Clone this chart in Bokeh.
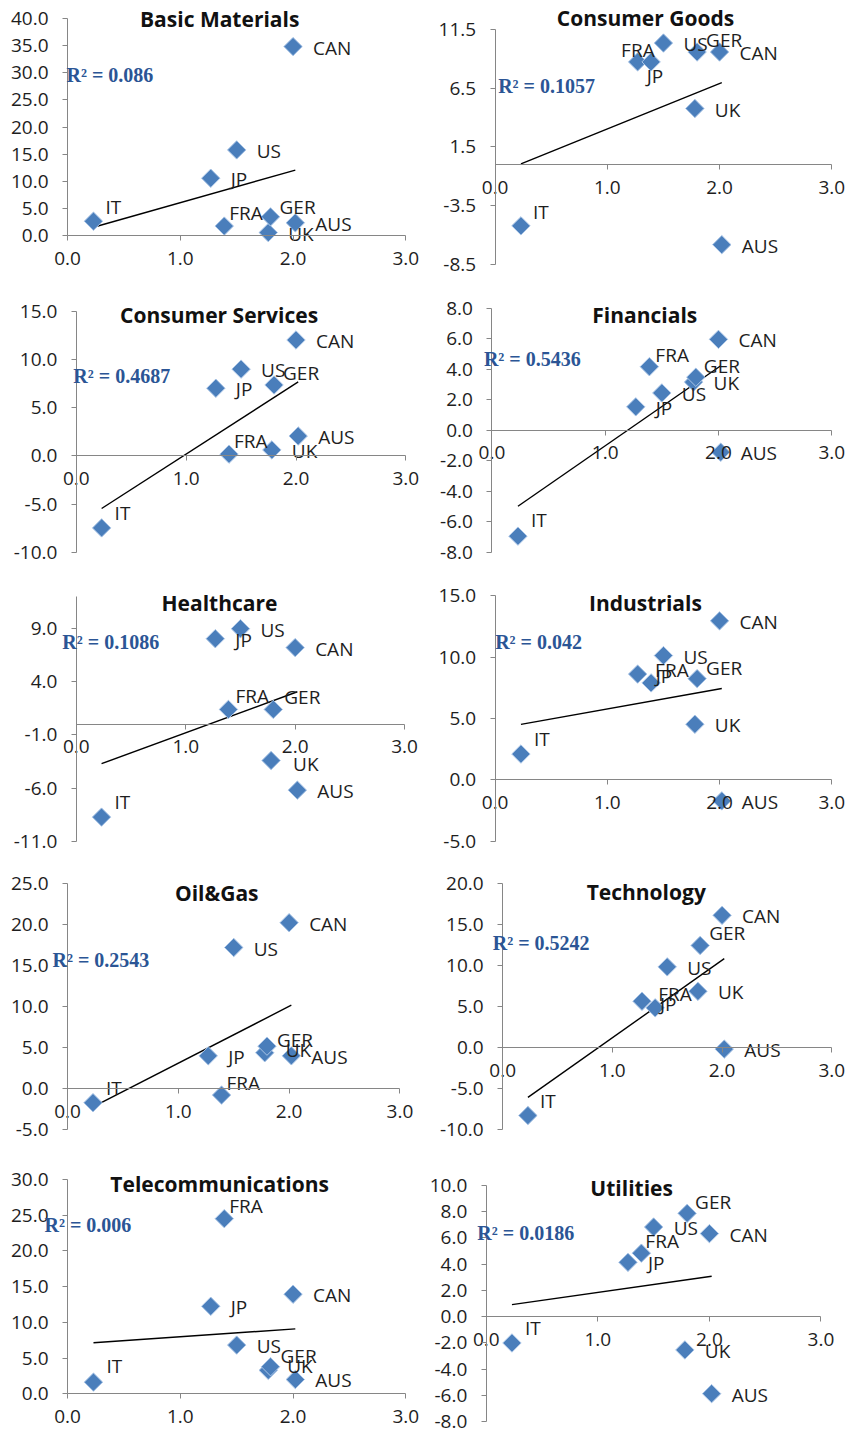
import numpy as np
from bokeh.plotting import figure
from bokeh.models import Range1d, FixedTicker, PrintfTickFormatter, Label, ColumnDataSource
from bokeh.layouts import column, row
from bokeh.embed import file_html
from bokeh.resources import INLINE
from bokeh.core.properties import value

# ---------------- data ----------------
countries = ["IT", "JP", "FRA", "US", "UK", "GER", "CAN", "AUS"]
country_x = [0.23, 1.27, 1.39, 1.50, 1.78, 1.80, 2.00, 2.02]

sectors = ["Basic Materials", "Consumer Goods", "Consumer Services", "Financials",
           "Healthcare", "Industrials", "Oil&Gas", "Technology",
           "Telecommunications", "Utilities"]

basic_materials = [2.7, 10.6, 1.8, 15.8, 0.6, 3.5, 34.8, 2.4]
consumer_goods = [-5.21, 8.72, 8.72, 10.32, 4.76, 9.56, 9.56, -6.81]
consumer_services = [-7.47, 7.0, 0.17, 8.98, 0.61, 7.34, 12.0, 2.05]
financials = [-6.94, 1.53, 4.16, 2.44, 3.15, 3.47, 5.95, -1.44]
healthcare = [-8.74, 8.06, 1.4, 9.0, -3.41, 1.4, 7.22, -6.2]
industrials = [2.1, 8.62, 7.9, 10.13, 4.53, 8.25, 12.96, -1.72]
oil_gas = [-1.69, 4.02, -0.76, 17.22, 4.4, 5.2, 20.24, 4.02]
technology = [-8.25, 5.67, 4.87, 9.86, 6.88, 12.47, 16.14, -0.16]
telecommunications = [1.65, 12.25, 24.5, 6.83, 3.3, 3.8, 13.94, 2.02]
utilities = [-2.01, 4.13, 4.83, 6.82, -2.54, 7.86, 6.32, -5.87]

sector_values = [basic_materials, consumer_goods, consumer_services, financials,
                 healthcare, industrials, oil_gas, technology,
                 telecommunications, utilities]

r_squared = ["0.086", "0.1057", "0.4687", "0.5436", "0.1086",
             "0.042", "0.2543", "0.5242", "0.006", "0.0186"]

x_ticks = [0, 1, 2, 3]
y_ticks = [
    [0, 5, 10, 15, 20, 25, 30, 35, 40],
    [-8.5, -3.5, 1.5, 6.5, 11.5],
    [-10, -5, 0, 5, 10, 15],
    [-8, -6, -4, -2, 0, 2, 4, 6, 8],
    [-11, -6, -1, 4, 9],
    [-5, 0, 5, 10, 15],
    [-5, 0, 5, 10, 15, 20, 25],
    [-10, -5, 0, 5, 10, 15, 20],
    [0, 5, 10, 15, 20, 25, 30],
    [-8, -6, -4, -2, 0, 2, 4, 6, 8, 10],
]
x_min, x_max = 0, 3
y_min = [0, -8.5, -10, -8, -11, -5, -5, -10, 0, -8]
y_max = [40, 11.5, 15, 8, 12, 15, 25, 20, 30, 10]

# ---------------- layout / style ----------------
SX = 845 / 861
SY = 1433 / 1449
def gx(v): return 8 + v * SX
def gy(v): return 8 + v * SY
row_tops = [8, 295, 587, 873, 1165, 1441]
col_lefts = [8, 430, 853]

# plot area in reference pixels: left, right, top, bottom
frames = [
    (68.3, 413, 18, 238), (504, 847, 29, 267),
    (77.3, 413, 314, 558), (500.7, 847, 311, 558),
    (77.3, 411.7, 603, 850), (504, 847, 602, 850),
    (68.3, 407, 893, 1142), (511.7, 847, 893, 1142),
    (68.3, 413, 1192, 1409), (495, 836, 1198, 1437),
]
title_off = [(-17, 1), (-18, -11), (-22, 4), (-17, 7), (-21, 6),
             (-18, 7), (-17, 9), (-21, 8), (-17, 5), (-22, 3)]
r2_off = [(-1, 57), (3, 57), (-3, 65), (-8, 51), (-14, 45),
          (0, 46), (-15, 76), (-10, 59), (-23, 46), (-9, 48)]
default_lbl = (20, 1)
label_over = [
    {"IT": (12, -14), "FRA": (5, -13), "GER": (9, -10)},
    {"GER": (9, -12), "FRA": (-30, -12), "JP": (9, 14), "IT": (12, -14)},
    {"GER": (9, -12), "FRA": (5, -13), "IT": (13, -15)},
    {"FRA": (6, -12), "GER": (8, -11), "IT": (13, -16)},
    {"FRA": (7, -13), "GER": (11, -12), "UK": (22, 3), "IT": (13, -15)},
    {"JP": (18, 2), "FRA": (4, -13), "GER": (9, -11), "IT": (13, -15)},
    {"GER": (10, -6), "UK": (21, -3), "FRA": (5, -12), "IT": (13, -15)},
    {"GER": (9, -12), "FRA": (3, -14), "JP": (18, 3), "IT": (12, -15)},
    {"FRA": (5, -13), "GER": (10, -11), "UK": (19, -4), "IT": (13, -16)},
    {"GER": (8, -11), "FRA": (4, -12), "IT": (13, -15)},
]

FONT = "Open Sans"
AXIS_COL = "#868686"
TXT_COL = "#1e1e1e"

figs = []
for i, name in enumerate(sectors):
    r, c = i // 2, i % 2
    W = col_lefts[c + 1] - col_lefts[c]
    H = row_tops[r + 1] - row_tops[r]
    L, R, T, B = frames[i]
    pl = gx(L) - col_lefts[c]
    pr = gx(R) - col_lefts[c]
    pt = gy(T) - row_tops[r]
    pb = gy(B) - row_tops[r]
    # the frame covers the whole canvas; ranges are widened so that the
    # axis extents land on the reference plot-area position
    kx = (pr - pl) / (x_max - x_min)
    ky = (pb - pt) / (y_max[i] - y_min[i])
    xr = Range1d(x_min - pl / kx, x_max + (W - pr) / kx)
    yr = Range1d(y_min[i] - (H - pb) / ky, y_max[i] + pt / ky)

    p = figure(width=W, height=H, output_backend="svg", toolbar_location=None,
               title=None, x_range=xr, y_range=yr,
               min_border=0, min_border_left=0, min_border_right=0,
               min_border_top=0, min_border_bottom=0)
    p.outline_line_color = None
    p.grid.visible = False
    p.background_fill_color = "white"
    p.border_fill_color = "white"

    xa, ya = p.xaxis[0], p.yaxis[0]
    xa.bounds = (x_min, x_max)
    ya.bounds = (y_min[i], y_max[i])
    for ax in (xa, ya):
        ax.fixed_location = 0
        ax.axis_line_color = AXIS_COL
        ax.axis_line_width = 1
        ax.major_tick_line_color = AXIS_COL
        ax.major_tick_out = 5
        ax.major_tick_in = 0
        ax.minor_tick_line_color = None
        ax.major_label_text_font = FONT
        ax.major_label_text_font_size = "19px"
        ax.major_label_text_color = TXT_COL
        ax.formatter = PrintfTickFormatter(format="%.1f")
    xa.ticker = FixedTicker(ticks=x_ticks)
    ya.ticker = FixedTicker(ticks=y_ticks[i])
    xa.major_label_standoff = 11
    ya.major_label_standoff = 14

    vals = sector_values[i]
    # linear trend line (least squares) between smallest and largest x
    slope, icpt = np.polyfit(country_x, vals, 1)
    xs = [min(country_x), max(country_x)]
    p.line(xs, [slope * v + icpt for v in xs], line_color="black", line_width=1.4)

    src = ColumnDataSource(dict(
        x=country_x, y=vals, text=countries,
        dx=[label_over[i].get(cn, default_lbl)[0] for cn in countries],
        dy=[label_over[i].get(cn, default_lbl)[1] for cn in countries],
    ))
    p.scatter("x", "y", source=src, marker="square", angle=np.pi / 4, size=13,
              fill_color="#4A7EBB", line_color="#A9C4E6", line_width=1)
    p.text("x", "y", text="text", source=src, x_offset="dx", y_offset="dy",
           text_font=value(FONT), text_font_size="19px", text_color=TXT_COL,
           text_align="left", text_baseline="middle")

    tdx, tdy = title_off[i]
    p.add_layout(Label(x=(x_min + x_max) / 2, y=y_max[i], x_offset=tdx, y_offset=-tdy,
                       text=name, text_font=FONT, text_font_size="21px",
                       text_font_style="bold", text_color="#111111",
                       text_align="center", text_baseline="middle"))
    rdx, rdy = r2_off[i]
    p.add_layout(Label(x=x_min, y=y_max[i], x_offset=rdx, y_offset=-rdy,
                       text="R\u00b2 = " + r_squared[i],
                       text_font="Liberation Serif", text_font_size="20px",
                       text_font_style="bold", text_color="#2B5595",
                       text_align="left", text_baseline="middle"))
    figs.append(p)

layout = column(*[row(figs[2 * k], figs[2 * k + 1]) for k in range(5)])
open("out.html", "w").write(file_html(layout, INLINE))
